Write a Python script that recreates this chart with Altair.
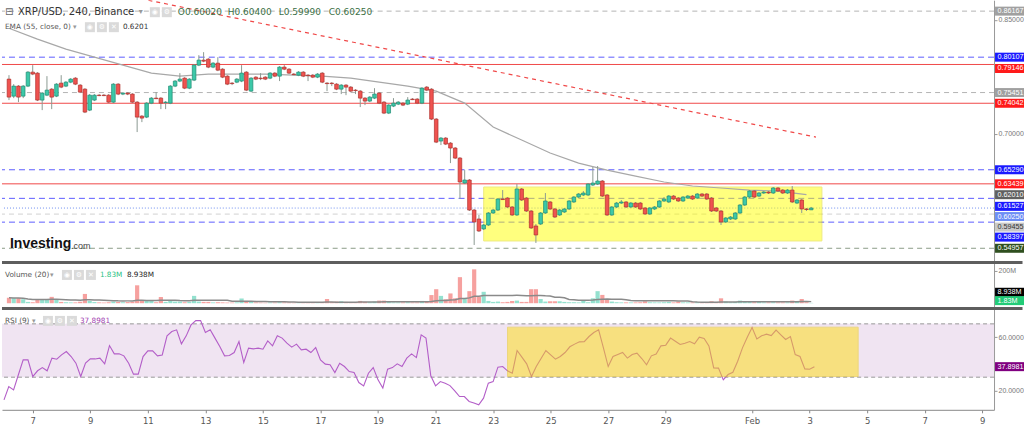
import altair as alt
import pandas as pd

# ---------------- data ----------------
OPEN = [
    .7722, .7498, .7630, .7498, .7630, .7814, .7801, .7446, .7511, .7590,
    .7498, .7669, .7630, .7682, .7735, .7643, .7590, .7314, .7446, .7511,
    .7511, .7511, .7419, .7656, .7525, .7538, .7525, .7419, .7235, .7222,
    .7406, .7472, .7472, .7413, .7406, .7630, .7696, .7735, .7603, .7709,
    .7906, .7972, .7985, .7880, .7932, .7853, .7761, .7669, .7682, .7696,
    .7814, .7564, .7748, .7735, .7748, .7735, .7801, .7761, .7880, .7853,
    .7788, .7774, .7814, .7774, .7774, .7748, .7801, .7669, .7669, .7656,
    .7590, .7643, .7617, .7577, .7564, .7472, .7433, .7472, .7538, .7419,
    .7275, .7367, .7393, .7406, .7393, .7459, .7459, .7406, .7617, .7590,
    .7196, .6907, .6946, .6880, .6815, .6683, .6354, .6394, .5999, .5881,
    .5750, .5802, .5960, .5999, .6144, .6157, .6039, .5934, .6276, .6157,
    .5986, .5789, .5815, .5960, .6105, .6013, .5934, .5973, .6013, .6105,
    .6170, .6197, .6197, .6328, .6341, .6381, .6197, .5934, .6039, .6091,
    .6105, .6039, .6091, .6091, .6026, .5947, .6013, .6039, .6118, .6105,
    .6183, .6157, .6118, .6157, .6183, .6157, .6210, .6210, .6157, .6026,
    .5986, .5842, .5881, .5881, .5960, .6065, .6170, .6249, .6183, .6223,
    .6236, .6223, .6289, .6262, .6223, .6262, .6091, .6131, .6013, .6002,
]
CLOSE = [
    .7485, .7630, .7485, .7630, .7814, .7788, .7446, .7538, .7577, .7485,
    .7656, .7617, .7682, .7722, .7656, .7551, .7288, .7511, .7511, .7505,
    .7505, .7419, .7656, .7525, .7538, .7525, .7419, .7222, .7209, .7406,
    .7472, .7465, .7406, .7419, .7630, .7696, .7722, .7603, .7722, .7906,
    .7972, .7958, .7880, .7932, .7840, .7748, .7656, .7663, .7722, .7801,
    .7577, .7735, .7722, .7728, .7722, .7801, .7761, .7880, .7853, .7801,
    .7781, .7814, .7761, .7767, .7748, .7788, .7682, .7663, .7663, .7590,
    .7643, .7617, .7564, .7571, .7472, .7433, .7485, .7525, .7406, .7275,
    .7380, .7406, .7419, .7380, .7446, .7452, .7406, .7603, .7577, .7196,
    .6893, .6946, .6867, .6815, .6683, .6368, .6394, .5999, .5842, .5723,
    .5802, .5960, .5999, .6144, .6137, .6039, .5934, .6276, .6131, .5986,
    .5763, .5671, .5960, .6118, .6013, .5907, .5999, .6013, .6118, .6170,
    .6210, .6223, .6341, .6354, .6381, .6183, .5934, .6039, .6091, .6105,
    .6039, .6091, .6039, .6013, .5947, .6026, .6039, .6118, .6144, .6183,
    .6144, .6118, .6170, .6183, .6144, .6210, .6183, .6144, .5986, .5986,
    .5842, .5894, .5907, .5960, .6065, .6170, .6249, .6170, .6223, .6236,
    .6223, .6289, .6249, .6223, .6262, .6105, .6131, .6013, .6006, .6025,
]
HIGH = [
    .7774, .7656, .7643, .7643, .7827, .7906, .7814, .7551, .7761, .7603,
    .7669, .7774, .7696, .7735, .7748, .7656, .7603, .7525, .7525, .7525,
    .7525, .7525, .7669, .7669, .7551, .7551, .7538, .7433, .7248, .7419,
    .7485, .7551, .7485, .7433, .7643, .7709, .7801, .7748, .7735, .7919,
    .8037, .8077, .7998, .7945, .8011, .7866, .7774, .7682, .7735, .7906,
    .7827, .7748, .7761, .7801, .7761, .7814, .7814, .7893, .7906, .7866,
    .7801, .7827, .7827, .7788, .7788, .7801, .7814, .7682, .7682, .7669,
    .7656, .7656, .7630, .7590, .7577, .7485, .7498, .7603, .7551, .7433,
    .7393, .7472, .7433, .7419, .7485, .7472, .7472, .7617, .7630, .7603,
    .7209, .6959, .6959, .6893, .6828, .6696, .6525, .6407, .6013, .5934,
    .5815, .5973, .6013, .6157, .6262, .6170, .6052, .6341, .6289, .6170,
    .5999, .5815, .5973, .6223, .6118, .6026, .6013, .6026, .6131, .6183,
    .6223, .6249, .6354, .6565, .6578, .6394, .6210, .6052, .6105, .6131,
    .6118, .6105, .6105, .6105, .6039, .6039, .6052, .6131, .6170, .6197,
    .6197, .6170, .6183, .6197, .6197, .6223, .6223, .6223, .6170, .6039,
    .5999, .5907, .5921, .5973, .6078, .6183, .6262, .6262, .6236, .6249,
    .6249, .6302, .6302, .6276, .6276, .6315, .6144, .6144, .6026, .6040,
]
LOW = [
    .7446, .7472, .7419, .7472, .7617, .7774, .7433, .7314, .7498, .7327,
    .7485, .7603, .7617, .7669, .7643, .7538, .7275, .7301, .7433, .7498,
    .7498, .7406, .7406, .7511, .7511, .7511, .7406, .7025, .7156, .7209,
    .7393, .7459, .7327, .7327, .7393, .7617, .7682, .7590, .7590, .7696,
    .7893, .7945, .7866, .7866, .7827, .7735, .7643, .7643, .7669, .7682,
    .7564, .7551, .7709, .7709, .7709, .7722, .7748, .7696, .7840, .7788,
    .7774, .7761, .7748, .7696, .7735, .7735, .7669, .7564, .7630, .7577,
    .7525, .7511, .7551, .7525, .7354, .7380, .7419, .7459, .7393, .7262,
    .7262, .7354, .7380, .7367, .7380, .7446, .7393, .7393, .7564, .7183,
    .6880, .6854, .6854, .6617, .6670, .6144, .6341, .5986, .5539, .5710,
    .5736, .5789, .5947, .5986, .6131, .6026, .5921, .5921, .6118, .5973,
    .5750, .5566, .5802, .5947, .5999, .5894, .5921, .5960, .5999, .6091,
    .6157, .6183, .6183, .6315, .6328, .6170, .5921, .5921, .6026, .6078,
    .6026, .6026, .6026, .5999, .5934, .5934, .5999, .6026, .6105, .6091,
    .6131, .6105, .6105, .6144, .6131, .6144, .6170, .6131, .5973, .5973,
    .5802, .5828, .5868, .5868, .5947, .6052, .6157, .6157, .6170, .6210,
    .6210, .6210, .6236, .6210, .6210, .6091, .6078, .5960, .5986, .5999,
]
VOLUME_M = [
    34, 31, 31, 25, 8, 6, 20, 25, 21, 39,
    25, 8, 6, 5, 5, 9, 57, 14, 7, 5,
    4, 6, 10, 8, 6, 7, 9, 110, 20, 14,
    16, 6, 38, 8, 14, 10, 10, 6, 8, 45,
    10, 8, 8, 5, 6, 5, 4, 4, 5, 29,
    14, 10, 5, 4, 3, 4, 4, 6, 5, 4,
    3, 4, 4, 4, 3, 4, 6, 26, 8, 10,
    12, 8, 6, 6, 14, 8, 6, 10, 16, 16,
    8, 5, 5, 5, 6, 5, 5, 14, 10, 50,
    86, 45, 24, 60, 30, 160, 30, 74, 208, 40,
    70, 14, 8, 10, 6, 8, 14, 16, 8, 8,
    86, 86, 26, 10, 12, 12, 12, 8, 6, 6,
    5, 16, 6, 30, 74, 51, 26, 10, 6, 5,
    5, 5, 5, 6, 12, 6, 5, 5, 6, 8,
    5, 10, 5, 5, 5, 6, 5, 6, 12, 8,
    30, 10, 6, 8, 16, 10, 8, 6, 12, 5,
    5, 6, 5, 5, 5, 16, 8, 26, 6, 1.83,
]
RSI9 = [
    13, 23, 20.5, 31.8, 43, 43, 30.5, 34.8, 37.2, 34.8,
    44.3, 43.5, 46.7, 49.2, 45.5, 40.5, 30.5, 40.5, 43.7, 43.7,
    44.3, 40, 53.7, 47.5, 47.5, 46, 40.5, 32.3, 32.3, 45.5,
    49.7, 49.7, 46, 46.7, 61, 64.2, 65.5, 55, 61, 69.2,
    72.4, 72.4, 63.5, 65.5, 59.3, 53, 46, 46.2, 48.5, 56.7,
    41, 51.8, 51.2, 51.8, 51, 57.2, 53.5, 61, 59.3, 55.5,
    52.5, 54.8, 50.5, 51, 48.5, 52.2, 43, 39.8, 39.3, 33.5,
    40.5, 38, 34.2, 33.5, 26, 23.5, 33, 37.2, 28, 21.8,
    36, 37.2, 40, 38, 44.3, 47.5, 44.7, 61.7, 59.3, 31,
    23.5, 26.7, 25.5, 23.7, 19.8, 15.5, 15.5, 11.8, 10.6, 9.3,
    14.3, 25.5, 26.7, 37.5, 38, 34.8, 33, 50, 45, 40,
    30.5, 38, 44, 50, 46.7, 43.5, 45.5, 48.5, 52.8, 54.8,
    56.5, 56.6, 60.5, 63.5, 65.5, 52, 38, 45.5, 47, 48.5,
    44.3, 47, 48, 44, 39.3, 46, 47.3, 53.5, 54, 59.3,
    57, 54.5, 55.5, 56.7, 55, 60, 59, 53.5, 37, 36.8,
    28, 32, 33.7, 42, 52, 60, 67.2, 58.7, 61, 62.3,
    61.2, 65.3, 61.8, 58.3, 60.5, 47, 45.5, 36.2, 36, 37.8981,
]
# EMA(55) read once per day (00:00 of Jan 6 ... Feb 3)
EMA55_DAILY = [
    0.8392, 0.8248, 0.8116, 0.8011, 0.7906, 0.7801, 0.7761, 0.7788, 0.7788, 0.7788,
    0.7774, 0.7761, 0.7735, 0.7682, 0.7630, 0.7564, 0.7406, 0.7091, 0.6920, 0.6749,
    0.6617, 0.6525, 0.6446, 0.6368, 0.6315, 0.6289, 0.6262, 0.6249, 0.6201,
]
LEVELS = [0.86167, 0.80107, 0.79146, 0.75451, 0.74042, 0.65290, 0.63439,
          0.61527, 0.60250, 0.59455, 0.58397, 0.54957]
LABEL_PRICES = [0.86167, 0.80107, 0.79146, 0.75451, 0.74042, 0.65290, 0.63439,
                0.62010, 0.61527, 0.60250, 0.59455, 0.58397, 0.54957]
TREND_T = ["2022-01-10T21:30:00Z", "2022-02-03T08:00:00Z"]
TREND_P = [0.8760, 0.6959]
BOX_T = ["2022-01-22T16:00:00Z", "2022-02-03T13:00:00Z"]
BOX_P = [0.5592, 0.6302]
RSI_BOX_T = ["2022-01-23T12:00:00Z", "2022-02-04T16:30:00Z"]
RSI_BOX_V = [30.5, 67.5]
RSI_BAND = [30, 70]
VOL_LABELS = [8.938, 1.83]
RSI_LAST = 37.8981

# ---------------- styles ----------------
GREEN, RED = "#3cc8a8", "#ef5350"
GREEN_E, RED_E = "#1f8c74", "#b0302c"
WICK = "#8c9a92"
BLUE_L, RED_L, GRAY_L = "#5c5cff", "#f04848", "#b4b4b4"
LEVEL_STYLE = [
    (GRAY_L, [5, 4]), (BLUE_L, [6, 4]), (RED_L, None), (GRAY_L, [5, 4]),
    (RED_L, None), (BLUE_L, [6, 4]), (RED_L, None), (BLUE_L, [6, 4]),
    ("#7090f0", [1, 2]), ("#d2d2d2", [5, 4]), (BLUE_L, [6, 4]), ("#8c9c88", [5, 4]),
]
LABEL_STYLE = [  # (background, text colour, vertical shift in px)
    ("#a0a0a0", "white", 0), ("#1a1aff", "white", 0), ("#ff1a1a", "white", 4),
    ("#a0a0a0", "white", 0), ("#ff1a1a", "white", 0), ("#1a1aff", "white", 0),
    ("#ff1a1a", "white", 0), ("#606060", "white", 0), ("#1a1aff", "white", 8),
    ("#6d8ef5", "white", 8.5), ("#c8c8c8", "#333333", 13), ("#1a1aff", "white", 15),
    ("#2f4f1f", "white", 0),
]
FONT = "DejaVu Sans"
AXFONT = "Liberation Sans"
W = 993
H1, H2, H3 = 261, 46, 103
RIGHT = 1023

# ---------------- tables ----------------
N = len(CLOSE)
t0 = pd.Timestamp("2022-01-06 00:00")
times = [(t0 + pd.Timedelta(hours=4 * i)).strftime("%Y-%m-%dT%H:%M:%SZ") for i in range(N)]
df = pd.DataFrame({"t": times, "o": OPEN, "h": HIGH, "l": LOW, "c": CLOSE,
                   "vol": VOLUME_M, "rsi": RSI9})
df["dir"] = ["up" if c >= o else "down" for o, c in zip(OPEN, CLOSE)]
df["blo"] = df[["o", "c"]].min(axis=1)
df["bhi"] = df[["o", "c"]].max(axis=1)
df["zero"] = 0.0

ema_df = pd.DataFrame({"t": [times[6 * k] for k in range(len(EMA55_DAILY))],
                       "ema": EMA55_DAILY})
trend_df = pd.DataFrame({"t": TREND_T, "p": TREND_P})
box_df = pd.DataFrame({"t1": [BOX_T[0]], "t2": [BOX_T[1]], "p1": [BOX_P[0]], "p2": [BOX_P[1]]})
rbox_df = pd.DataFrame({"t1": [RSI_BOX_T[0]], "t2": [RSI_BOX_T[1]],
                        "v1": [RSI_BOX_V[0]], "v2": [RSI_BOX_V[1]]})
ONE = pd.DataFrame({"v": [0]})


def dt(mo, d, h=0, mi=0):
    return alt.DateTime(year=2022, month=mo, date=d, hours=h, minutes=mi, utc=True)


XS = alt.Scale(type="utc", domain=[dt(1, 5, 22, 20), dt(2, 9, 9, 50)])
XVALS = [dt(1, d) for d in range(7, 30, 2)] + [dt(2, d) for d in (1, 3, 5, 7, 9)]
XA = alt.Axis(values=XVALS, grid=False, title=None, domainColor="#888", tickColor="#888",
              tickSize=3, labelColor="#555", labelFontSize=8.5, labelPadding=4, labelFont=FONT,
              labelExpr="utcFormat(datum.value, '%d') == '01' ? 'Feb' : utcFormat(datum.value, '%-d')")


def X(f, axis=None):
    return alt.X(f, type="temporal", scale=XS, axis=axis)


def X2(f):
    return alt.X2(f)


def text_layer(s, x, y, size=9, color="#444", weight="normal", align="left", font=FONT):
    return alt.Chart(ONE).mark_text(text=s, align=align, baseline="middle", fontSize=size,
                                    color=color, fontWeight=weight, font=font).encode(
        x=alt.value(x), y=alt.value(y))


def rect_layer(x1, x2, y1, y2, color, opacity=1.0):
    return alt.Chart(ONE).mark_rect(color=color, opacity=opacity).encode(
        x=alt.value(x1), x2=alt.value(x2), y=alt.value(y1), y2=alt.value(y2))


def icons(x, y, n):
    out = []
    glyphs = ["◉", "⚙", "✕"]
    for k in range(n):
        xx = x + 12 * k
        out.append(rect_layer(xx, xx + 10, y - 5, y + 5, "#dadada"))
        out.append(text_layer(glyphs[k], xx + 5, y, size=7, color="white", align="center"))
    return out


def separator():
    return alt.Chart(ONE).mark_rule(color="#5e5e5e", strokeWidth=3).encode(
        x=alt.value(0), x2=alt.value(RIGHT - 1.5), y=alt.value(1.5))


def right_box(value, scale_y, bg, fg, dy, txt, size=7.2):
    d = pd.DataFrame({"p": [value], "txt": [txt]})
    b = alt.Chart(d)
    return [
        b.mark_rect(color=bg, yOffset=dy - 4.5, y2Offset=dy + 4.5).encode(
            x=alt.value(994), x2=alt.value(RIGHT), y=scale_y("p"), y2=alt.Y2("p")),
        b.mark_text(color=fg, align="left", baseline="middle", dy=dy, fontSize=size,
                    font=AXFONT).encode(
            x=alt.value(996.5), y=scale_y("p"), text="txt:N"),
    ]


def right_axis(values, **kw):
    return alt.Axis(orient="right", values=values, grid=False, title=None,
                    labelColor="#777", labelFontSize=7, labelFont=AXFONT, tickSize=3,
                    tickColor="#999", domainColor="#999", labelPadding=1, **kw)


# ---------------- panel 1: price ----------------
PS = alt.Scale(domain=[0.53289, 0.87605], zero=False, nice=False)
PA = right_axis([0.70, 0.85], format=".5f")


def PY(f):
    return alt.Y(f, type="quantitative", scale=PS, axis=PA)


p1 = []
for lv, (col, dash) in zip(LEVELS, LEVEL_STYLE):
    kw = {"color": col, "strokeWidth": 1}
    if dash:
        kw["strokeDash"] = dash
    p1.append(alt.Chart(pd.DataFrame({"p": [lv]})).mark_rule(**kw).encode(y=PY("p")))

p1.append(alt.Chart(box_df).mark_rect(color="#ffff00", opacity=0.5, stroke="#e0d800",
                                      strokeWidth=1).encode(
    x=X("t1"), x2=X2("t2"), y=PY("p1"), y2=alt.Y2("p2")))
p1.append(alt.Chart(ema_df).mark_line(color="#a8a8a8", strokeWidth=1.2).encode(
    x=X("t"), y=PY("ema")))
p1.append(alt.Chart(trend_df).mark_line(color="#f04848", strokeDash=[4, 4], strokeWidth=1.2,
                                        clip=True).encode(x=X("t"), y=PY("p")))
p1.append(alt.Chart(df).mark_rule(color=WICK, strokeWidth=1).encode(
    x=X("t"), y=PY("l"), y2=alt.Y2("h")))
p1.append(alt.Chart(df).mark_bar(size=3.6, strokeWidth=0.7).encode(
    x=X("t"), y=PY("blo"), y2=alt.Y2("bhi"),
    color=alt.Color("dir:N", scale=alt.Scale(domain=["up", "down"], range=[GREEN, RED]), legend=None),
    stroke=alt.Stroke("dir:N", scale=alt.Scale(domain=["up", "down"], range=[GREEN_E, RED_E]), legend=None)))

for lp, (bg, fg, dy) in zip(LABEL_PRICES, LABEL_STYLE):
    p1 += right_box(lp, PY, bg, fg, dy, f"{lp:.5f}")

p1 += [
    text_layer("⊟", 3, 12, size=10, color="#666"),
    text_layer("XRP/USD, 240, Binance", 16, 12, size=10, color="#333"),
    text_layer("▾", 137, 12, size=8, color="#999"),
]
p1 += icons(148, 12, 2)
for s, x in [("O0.60020", 176), ("H0.60400", 226), ("L0.59990", 277), ("C0.60250", 327)]:
    p1.append(text_layer(s, x, 12, size=9, color="#3b6f45"))
p1 += [
    text_layer("EMA (55, close, 0)", 3, 27, size=7.3, color="#555"),
    text_layer("▾", 71, 27, size=7, color="#999"),
]
p1 += icons(83, 27, 3)
p1 += [
    text_layer("0.6201", 121, 27, size=7.3, color="#333"),
    text_layer("Investing", 8, 244, size=14, color="#111", weight="bold", font="Liberation Sans"),
    text_layer(".com", 69, 246, size=9, color="#444", font="Liberation Sans"),
]
panel1 = alt.layer(*p1).properties(width=W, height=H1)

# ---------------- panel 2: volume ----------------
VS = alt.Scale(domain=[-22.7, 259.5], zero=False, nice=False)
VA = right_axis([200], labelExpr="'200M'")


def VY(f):
    return alt.Y(f, type="quantitative", scale=VS, axis=VA)


p2 = [
    alt.Chart(df).mark_bar(size=4.2, opacity=0.55).encode(
        x=X("t"), y=VY("vol"), y2=alt.Y2("zero"),
        color=alt.Color("dir:N", scale=alt.Scale(domain=["up", "down"], range=["#2fd08f", "#f27a76"]),
                        legend=None)),
    alt.Chart(df).transform_window(ma="mean(vol)", frame=[-19, 0], sort=[alt.SortField("t")]).mark_line(
        color="#8a8a8a", strokeWidth=1.5).encode(x=X("t"), y=VY("ma:Q")),
    separator(),
    text_layer("Volume (20)", 3, 14, size=7.3, color="#555"),
    text_layer("▾", 48, 14, size=7, color="#999"),
]
p2 += icons(60, 14, 3)
p2 += [
    text_layer("1.83M", 98, 14, size=7.3, color="#1fbf7f"),
    text_layer("8.938M", 125, 14, size=7.3, color="#222"),
]
p2 += right_box(VOL_LABELS[0], VY, "#000000", "white", -9.5, "8.938M")
p2 += right_box(VOL_LABELS[1], VY, "#22cc77", "white", -2.3, "1.83M")
panel2 = alt.layer(*p2).properties(width=W, height=H2)

# ---------------- panel 3: RSI ----------------
RS = alt.Scale(domain=[5.54, 82.7], zero=False, nice=False)
RA = right_axis([20, 60], format=".4f")


def RY(f):
    return alt.Y(f, type="quantitative", scale=RS, axis=RA)


band_df = pd.DataFrame({"lo": [RSI_BAND[0]], "hi": [RSI_BAND[1]]})
lvl_df = pd.DataFrame({"v": RSI_BAND})
p3 = [
    alt.Chart(band_df).mark_rect(color="#f0e4f2").encode(
        x=alt.value(0), x2=alt.value(W), y=RY("lo"), y2=alt.Y2("hi")),
    alt.Chart(lvl_df).mark_rule(color="#999", strokeDash=[4, 3], strokeWidth=1).encode(y=RY("v")),
    alt.Chart(df).mark_line(color="#b35ec8", strokeWidth=1.1).encode(x=X("t", XA), y=RY("rsi")),
    alt.Chart(rbox_df).mark_rect(color="#ffdd00", opacity=0.47, stroke="#e8c800", strokeWidth=1).encode(
        x=X("t1", XA), x2=X2("t2"), y=RY("v1"), y2=alt.Y2("v2")),
    separator(),
    text_layer("RSI (9)", 3, 14, size=7.3, color="#555"),
    text_layer("▾", 30, 14, size=7, color="#999"),
]
p3 += icons(41, 14, 3)
p3.append(text_layer("37.8981", 78, 14, size=7.3, color="#a040b0"))
p3 += right_box(RSI_LAST, RY, "#800080", "white", 0, "37.8981")
panel3 = alt.layer(*p3).properties(width=W, height=H3)

chart = alt.vconcat(panel1, panel2, panel3, spacing=0, bounds="flush").properties(
    padding=0, background="white"
).configure_view(stroke=None).configure_axis(labelFont=FONT)

chart.save("out.html", embed_options={"renderer": "svg", "actions": False})
